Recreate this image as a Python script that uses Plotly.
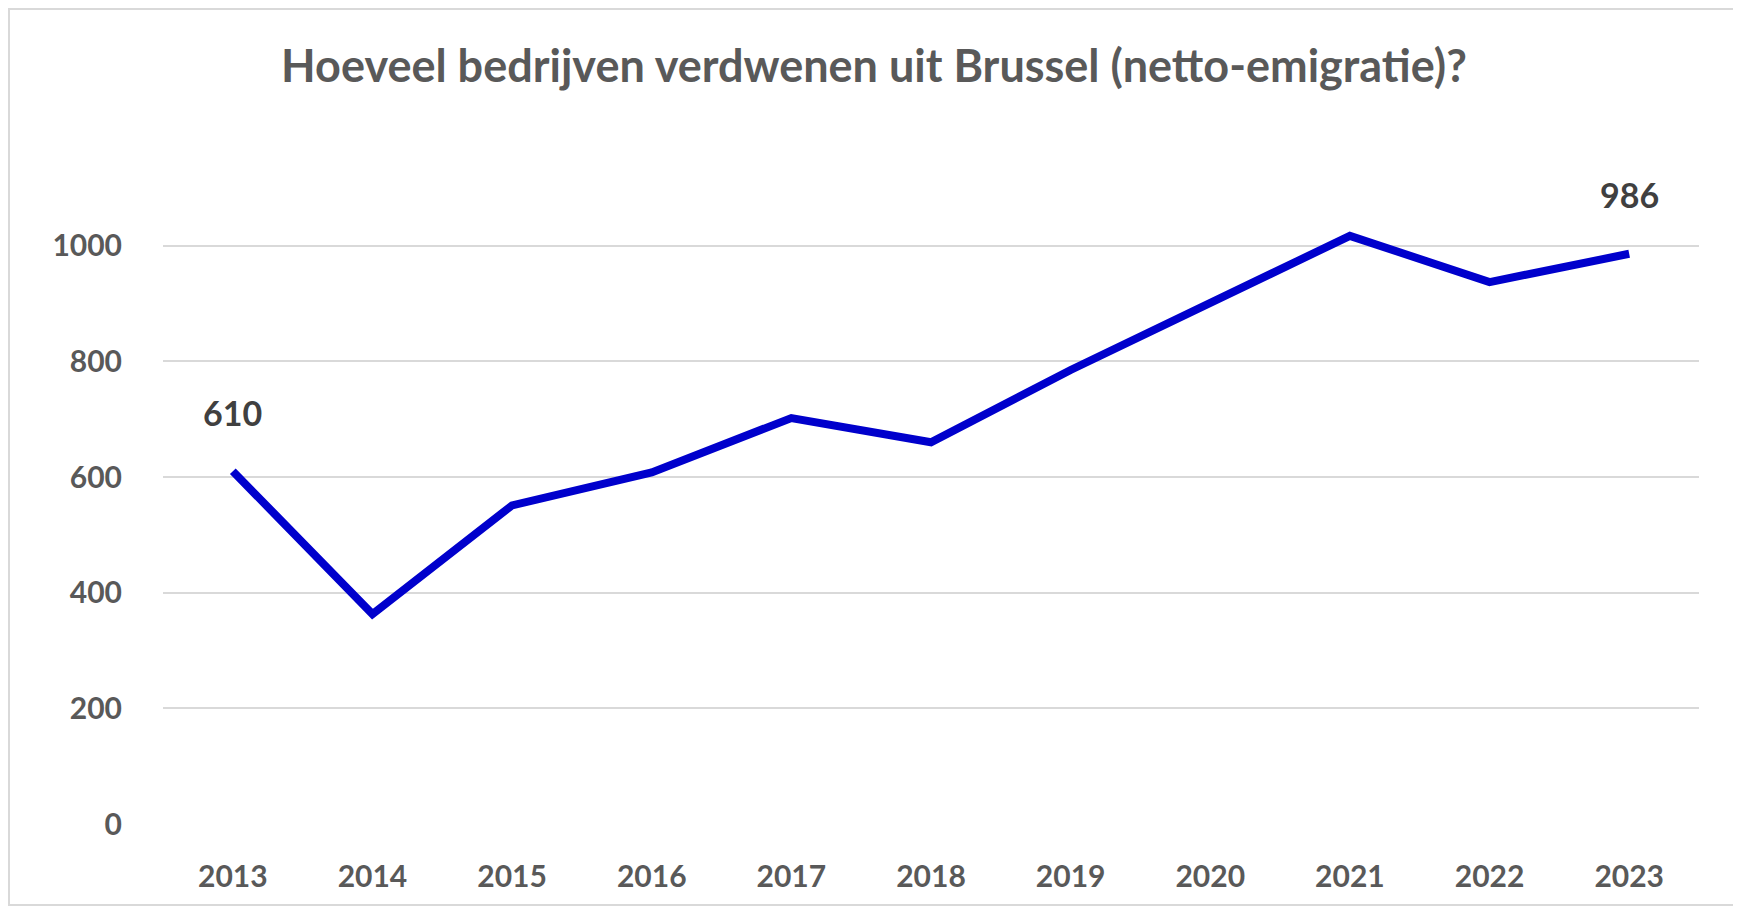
import plotly.graph_objects as go

years = ["2013", "2014", "2015", "2016", "2017", "2018", "2019", "2020", "2021", "2022", "2023"]
emigratie = [610, 363, 551, 608, 702, 660, 785, 902, 1017, 937, 986]
y_ticks = [0, 200, 400, 600, 800, 1000]

W, H = 1741, 907
off = 8  # page body margin shifts the svg
left, right, top, bottom = 163 - off, 42 + off, 130 - off, 83 + off
pw, ph = W - left - right, H - top - bottom

fig = go.Figure()
fig.add_trace(go.Scatter(
    x=years, y=emigratie, mode="lines",
    line=dict(color="#0000CC", width=8),
    hoverinfo="x+y", showlegend=False,
))

# labels on first and last point
for i in (0, len(years) - 1):
    fig.add_annotation(
        x=i, y=emigratie[i], text=str(emigratie[i]),
        showarrow=False, yshift=59,
        font=dict(family="Lato", size=34, color="#404040", weight="bold"),
    )

# light border around the chart
fig.add_shape(
    type="rect", xref="paper", yref="paper",
    x0=(1 - left) / pw, x1=(W - off - 2 - left) / pw,
    y0=-(bottom - off - 2) / ph, y1=(H - 1 - bottom) / ph,
    line=dict(color="#d9d9d9", width=2), layer="below",
)

fig.update_layout(
    width=W, height=H,
    margin=dict(l=left, r=right, t=top, b=bottom),
    paper_bgcolor="white", plot_bgcolor="white",
    title=dict(
        text="Hoeveel bedrijven verdwenen uit Brussel (netto-emigratie)?",
        x=(874 - off) / W, xanchor="center", y=1 - (66 - off) / H, yanchor="middle",
        font=dict(family="Lato", size=45, color="#595959", weight="bold"),
    ),
    xaxis=dict(
        type="category", range=[-0.5, 10.5],
        showgrid=False, zeroline=False, showline=False,
        ticks="outside", ticklen=26, tickcolor="rgba(0,0,0,0)",
        tickfont=dict(family="Lato", size=30, color="#595959", weight="bold"),
    ),
    yaxis=dict(
        range=[0, 1200], tickvals=y_ticks,
        showgrid=True, gridcolor="#d9d9d9", gridwidth=2,
        zeroline=False, showline=False,
        ticks="outside", ticklen=34, tickcolor="rgba(0,0,0,0)",
        tickfont=dict(family="Lato", size=30, color="#595959", weight="bold"),
    ),
)

fig.write_html("out.html")
